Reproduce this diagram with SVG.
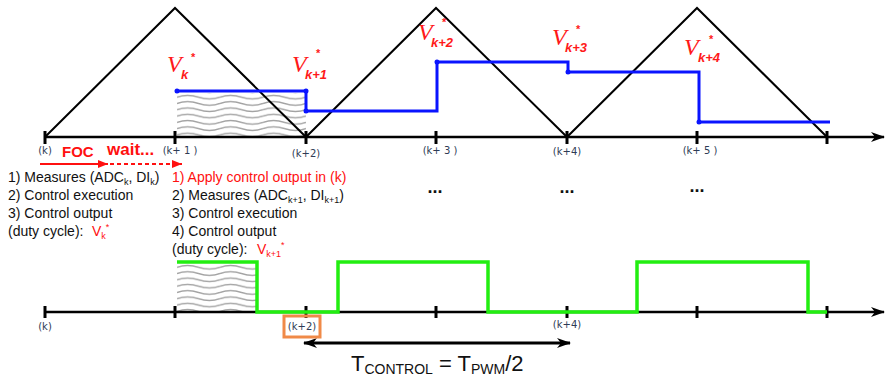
<svg xmlns="http://www.w3.org/2000/svg" width="888" height="381" viewBox="0 0 888 381">
<style>
.ax{stroke:#000;stroke-width:2.5;fill:none}
.tk{stroke:#000;stroke-width:3}
.tri{stroke:#000;stroke-width:2;fill:none}
.blue{stroke:#0a14ff;stroke-width:3;fill:none}
.grn{stroke:#22ee11;stroke-width:3.5;fill:none}
.lbl{font-family:"DejaVu Sans",sans-serif;font-size:10px;fill:#2e3b55;text-anchor:middle}
.txt{font-family:"Liberation Sans",Arial,sans-serif;font-size:14px;fill:#111}
.red{fill:#ff1010}
.v{font-family:"Liberation Serif",serif;font-style:italic;font-size:24px;fill:#ff1a1a}
.vs{font-family:"Liberation Sans",sans-serif;font-style:italic;font-weight:bold;font-size:13px;fill:#ff1a1a}
.st{font-family:"Liberation Sans",sans-serif;font-weight:bold;font-size:11px;fill:#ff1a1a}
.dots{font-family:"Liberation Sans",sans-serif;font-weight:bold;font-size:18px;fill:#111;text-anchor:middle}
</style>
<defs>
<pattern id="wave" patternUnits="userSpaceOnUse" x="177" y="94" width="43" height="6.3">
<path d="M0,3.15 C7,0.8 14,0.8 21.5,3.15 S36,5.5 43,3.15" stroke="#a0a0a0" stroke-width="1.4" fill="none"/>
</pattern>
<marker id="ah" viewBox="0 0 14 10" refX="13" refY="5" markerWidth="14" markerHeight="10" markerUnits="userSpaceOnUse" orient="auto-start-reverse">
<path d="M0,0 L14,5 L0,10 L4,5 z" fill="#000"/>
</marker>
<marker id="rh" viewBox="0 0 10 8" refX="10" refY="4" markerWidth="10" markerHeight="8" markerUnits="userSpaceOnUse" orient="auto">
<path d="M0,0 L10,4 L0,8 z" fill="#ff1010"/>
</marker>
</defs>

<!-- hatch regions -->
<rect x="177" y="93" width="129" height="44" fill="url(#wave)"/>
<rect x="177" y="264" width="80" height="48" fill="url(#wave)"/>

<!-- connectors / waveforms -->
<g id="connectors">
<polyline class="tri" points="45,137 175,8 306,137 436,8 567,137 697,8 827,137"/>
<line class="ax" x1="45" y1="137" x2="884" y2="137" marker-end="url(#ah)"/>
<line class="ax" x1="45" y1="312" x2="884" y2="312" marker-end="url(#ah)"/>
<g class="tk">
<line x1="45" y1="131" x2="45" y2="144"/>
<line x1="175" y1="131" x2="175" y2="144"/>
<line x1="306" y1="131" x2="306" y2="144"/>
<line x1="436" y1="131" x2="436" y2="144"/>
<line x1="567" y1="131" x2="567" y2="144"/>
<line x1="697" y1="131" x2="697" y2="144"/>
<line x1="827" y1="131" x2="827" y2="144"/>
<line x1="45" y1="306" x2="45" y2="318"/>
<line x1="175" y1="306" x2="175" y2="318"/>
<line x1="306" y1="306" x2="306" y2="318"/>
<line x1="436" y1="306" x2="436" y2="318"/>
<line x1="567" y1="306" x2="567" y2="318"/>
<line x1="697" y1="306" x2="697" y2="318"/>
<line x1="827" y1="306" x2="827" y2="318"/>
</g>
<polyline class="blue" points="177,91 306,91 306,111 437,111 437,62 568,62 568,72 699,72 699,122 830,122"/>
<g fill="#0a14ff">
<circle cx="177" cy="91" r="2.5"/>
<circle cx="306" cy="91" r="2.5"/>
<circle cx="306" cy="111" r="2.5"/>
<circle cx="437" cy="62" r="2.5"/>
<circle cx="568" cy="72" r="2.5"/>
<circle cx="699" cy="122" r="2.5"/>
</g>
<polyline class="grn" points="177,262 257,262 257,312 338,312 338,262 488,262 488,312 637,312 637,262 808,262 808,312 827,312"/>
<line x1="40" y1="164" x2="108" y2="164" stroke="#ff1010" stroke-width="2" marker-end="url(#rh)"/>
<line x1="110" y1="164" x2="182" y2="164" stroke="#ff1010" stroke-width="2" stroke-dasharray="4,3" marker-end="url(#rh)"/>
<line x1="304" y1="343" x2="570" y2="343" stroke="#000" stroke-width="3" marker-start="url(#ah)" marker-end="url(#ah)"/>
</g>

<!-- axis labels -->
<g id="axis-labels" class="lbl">
<text x="45" y="154">(k)</text>
<text x="180" y="154">(k+ 1 )</text>
<text x="306" y="157">(k+2)</text>
<text x="440" y="154">(k+ 3 )</text>
<text x="567" y="155">(k+4)</text>
<text x="700" y="154">(k+ 5 )</text>
<text x="45" y="330">(k)</text>
<text x="567" y="328">(k+4)</text>
</g>
<g id="k2-box">
<rect x="284" y="316" width="36" height="21" fill="none" stroke="#f08a48" stroke-width="3"/>
<text class="lbl" x="302" y="330">(k+2)</text>
</g>

<!-- V labels -->
<g id="v-labels">
<text class="v" x="167" y="72">V</text><text class="vs" x="181" y="79">k</text><text class="st" x="191" y="61">*</text>
<text class="v" x="292" y="72">V</text><text class="vs" x="305" y="79">k+1</text><text class="st" x="316" y="57">*</text>
<text class="v" x="418" y="40">V</text><text class="vs" x="431" y="47">k+2</text><text class="st" x="442" y="26">*</text>
<text class="v" x="552" y="45">V</text><text class="vs" x="565" y="52">k+3</text><text class="st" x="576" y="33">*</text>
<text class="v" x="684" y="55">V</text><text class="vs" x="698" y="62">k+4</text><text class="st" x="709" y="43">*</text>
</g>

<g id="foc">
<text x="62" y="157" font-family="Liberation Sans,sans-serif" font-weight="bold" font-size="15" fill="#ff1010">FOC</text>
<text x="107" y="155" font-family="Liberation Sans,sans-serif" font-weight="bold" font-size="17" fill="#ff1010">wait...</text>
</g>

<g id="step-k" class="txt">
<text x="8" y="182">1) Measures (ADC<tspan font-size="9" dy="3">k</tspan><tspan dy="-3">, DI</tspan><tspan font-size="9" dy="3">k</tspan><tspan dy="-3">)</tspan></text>
<text x="8" y="200">2) Control execution</text>
<text x="8" y="218">3) Control output</text>
<text x="8" y="236">(duty cycle):<tspan class="red" x="92">V</tspan><tspan class="red" font-size="9" dy="3">k</tspan><tspan class="red" font-size="9" dy="-9">*</tspan></text>
</g>

<g id="step-k1" class="txt">
<text x="172" y="182" class="red">1) Apply control output in (k)</text>
<text x="172" y="200">2) Measures (ADC<tspan font-size="9" dy="3">k+1</tspan><tspan dy="-3">, DI</tspan><tspan font-size="9" dy="3">k+1</tspan><tspan dy="-3">)</tspan></text>
<text x="172" y="218">3) Control execution</text>
<text x="172" y="236">4) Control output</text>
<text x="172" y="254">(duty cycle):<tspan class="red" x="257">V</tspan><tspan class="red" font-size="9" dy="3">k+1</tspan><tspan class="red" font-size="9" dy="-9">*</tspan></text>
</g>

<g id="ellipses" class="dots">
<text x="435" y="193">...</text>
<text x="567" y="193">...</text>
<text x="697" y="192">...</text>
</g>

<g id="period">
<text x="351" y="371" font-family="Liberation Sans,sans-serif" font-size="22" fill="#111">T<tspan font-size="14" dy="3">CONTROL</tspan><tspan dy="-3"> = T</tspan><tspan font-size="14" dy="3">PWM</tspan><tspan dy="-3">/2</tspan></text>
</g>
</svg>
